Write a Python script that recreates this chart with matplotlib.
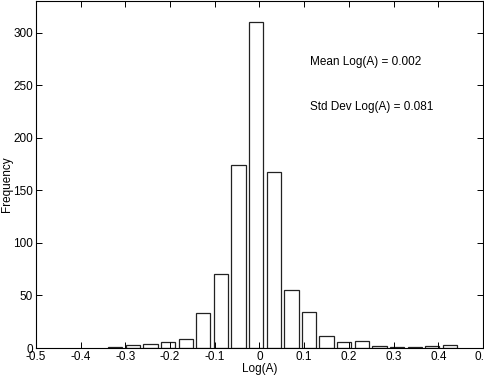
#!/usr/bin/env python3
"""Histogram of Log(A) with mean / std annotations."""

import matplotlib
matplotlib.use('Agg')
import matplotlib.pyplot as plt

plt.rcParams['font.family'] = ['Liberation Sans', 'DejaVu Sans']

# bin centres and counts
bin_centers = [-0.3227, -0.2833, -0.2439, -0.2045, -0.1651, -0.1257, -0.0863,
               -0.0469, -0.0075, 0.0319, 0.0713, 0.1107, 0.1501, 0.1895,
               0.2289, 0.2683, 0.3077, 0.3471, 0.3865, 0.4259]
counts = [1, 3, 4, 6, 9, 33, 70, 174, 310, 167, 55, 34, 11, 6, 7, 2, 1, 1, 2, 3]
bin_step = 0.0394

x_ticks = [-0.5, -0.4, -0.3, -0.2, -0.1, 0, 0.1, 0.2, 0.3, 0.4, 0.5]
x_tick_labels = ['-0.5', '-0.4', '-0.3', '-0.2', '-0.1', '0',
                 '0.1', '0.2', '0.3', '0.4', '0.5']
y_ticks = [0, 50, 100, 150, 200, 250, 300]

fig = plt.figure(figsize=(4.85, 3.8), dpi=100)
ax = fig.add_axes([0.0742, 0.0842, 0.9217, 0.9128])

ax.bar(bin_centers, counts, width=bin_step * 0.81, facecolor='white',
       edgecolor='#222222', linewidth=0.9)

ax.set_xlim(-0.5, 0.5)
ax.set_ylim(0, 330)
ax.set_xticks(x_ticks)
ax.set_xticklabels(x_tick_labels)
ax.set_yticks(y_ticks)
ax.tick_params(direction='in', length=4, width=0.7, labelsize=8.5,
               top=True, right=True, pad=2)
for spine in ax.spines.values():
    spine.set_linewidth(0.8)

ax.set_xlabel('Log(A)', fontsize=8.5, labelpad=0)
ax.set_ylabel('Frequency', fontsize=8.5)
ax.yaxis.set_label_coords(-0.051, 0.473)

ax.text(0.113, 272, 'Mean Log(A) = 0.002', fontsize=8.5, va='center')
ax.text(0.113, 229, 'Std Dev Log(A) = 0.081', fontsize=8.5, va='center')

fig.savefig('out.png', dpi=100, facecolor='white')
